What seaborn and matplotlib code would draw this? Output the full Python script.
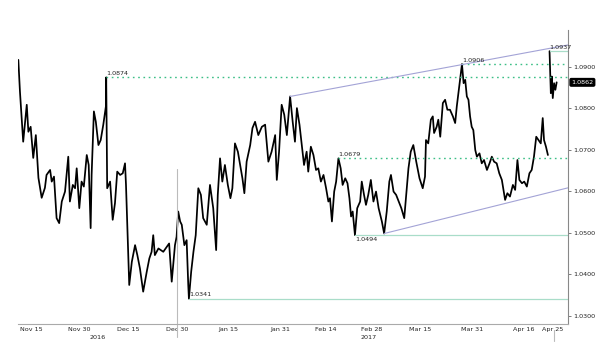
import pandas as pd
import seaborn as sns
import matplotlib.pyplot as plt
import matplotlib.transforms as mtransforms

sns.set_style('white')
plt.rcParams['font.family'] = ['DejaVu Sans']

# days after 2016-11-15 and price
days = [-3.9, -3.4, -2.4, -1.3, -0.8, -0.1, 0.7, 1.5, 2.3, 3.3, 4.3, 4.8, 5.9, 6.4, 7.1, 7.9, 8.7, 9.5,
        10.5, 11.5, 12.0, 12.9, 13.6, 14.1, 14.9, 15.6, 16.3, 17.2, 17.8, 18.4, 18.7, 19.4, 20.0, 20.8,
        21.5, 22.3, 23.1, 23.2, 23.5, 24.4, 25.2, 25.9, 26.6, 27.5, 28.3, 29.0, 29.3, 29.7, 30.3, 31.1,
        32.1, 32.8, 33.6, 34.6, 35.7, 36.5, 37.2, 37.7, 38.2, 39.3, 40.8, 41.9, 42.6, 43.4, 44.4, 44.9,
        45.4, 46.0, 46.5, 47.3, 48.0, 48.5, 48.7, 49.4, 50.1, 50.8, 51.6, 52.4, 53.1, 54.2, 55.2, 56.2,
        57.1, 57.6, 58.3, 59.0, 59.8, 60.7, 61.5, 62.1, 62.9, 63.8, 64.5, 65.2, 65.8, 66.5, 67.6, 68.3,
        69.1, 70.1, 71.2, 72.2, 73.2, 74.2, 75.3, 75.8, 76.5, 77.3, 78.1, 78.9, 79.9, 80.7, 81.4, 82.0,
        82.8, 83.5, 84.2, 85.0, 85.5, 86.3, 87.1, 87.9, 88.6, 89.4, 90.2, 91.0, 91.7, 92.2, 92.8, 93.5,
        94.1, 94.8, 95.5, 96.1, 96.9, 97.6, 98.2, 98.7, 99.2, 99.9, 100.6, 101.5, 102.0, 102.7, 103.3,
        104.0, 104.8, 105.6, 106.4, 107.2, 108.2, 108.9, 109.7, 110.5, 111.0, 111.8, 112.6, 113.4,
        114.2, 115.1, 115.7, 116.4, 117.1, 117.9, 118.8, 119.8, 120.8, 121.5, 121.8, 122.5, 123.3,
        123.9, 124.3, 125.1, 125.6, 126.2, 127.0, 127.7, 128.4, 129.2, 130.1, 130.8, 131.3, 131.8,
        132.3, 132.9, 133.4, 133.9, 134.4, 134.9, 135.4, 135.9, 136.4, 137.0, 137.5, 138.3, 139.0,
        139.7, 140.6, 141.4, 142.1, 142.8, 143.6, 144.4, 145.2, 145.7, 146.2, 146.9, 147.7, 148.6,
        149.3, 150.0, 150.6, 151.4, 152.1, 152.9, 153.7, 154.4, 155.1, 155.8, 156.5, 157.2, 157.8,
        158.2, 158.8, 159.4,
        159.9, 160.3, 160.6, 160.9, 161.3, 161.7, 162.1]
price = [1.0916, 1.0840, 1.0719, 1.0808, 1.0743, 1.0755, 1.0680, 1.0735, 1.0632, 1.0584, 1.0608, 1.0639,
         1.0651, 1.0623, 1.0635, 1.0535, 1.0523, 1.0575, 1.0599, 1.0683, 1.0575, 1.0615, 1.0607, 1.0655,
         1.0559, 1.0623, 1.0611, 1.0687, 1.0663, 1.0511, 1.0639, 1.0792, 1.0767, 1.0711, 1.0723, 1.0760,
         1.0804, 1.0874, 1.0607, 1.0623, 1.0531, 1.0571, 1.0647, 1.0639, 1.0643, 1.0667, 1.0615, 1.0519,
         1.0374, 1.0430, 1.0470, 1.0446, 1.0414, 1.0358, 1.0406, 1.0438, 1.0454, 1.0494, 1.0446, 1.0462,
         1.0454, 1.0466, 1.0474, 1.0382, 1.0470, 1.0490, 1.0551, 1.0527, 1.0519, 1.0470, 1.0482, 1.0374,
         1.0341, 1.0406, 1.0454, 1.0494, 1.0607, 1.0591, 1.0535, 1.0519, 1.0615, 1.0559, 1.0458, 1.0591,
         1.0679, 1.0623, 1.0663, 1.0615, 1.0583, 1.0607, 1.0715, 1.0695, 1.0663, 1.0631, 1.0595, 1.0671,
         1.0711, 1.0752, 1.0767, 1.0735, 1.0755, 1.0760, 1.0671, 1.0695, 1.0735, 1.0627, 1.0695, 1.0808,
         1.0784, 1.0735, 1.0828, 1.0767, 1.0719, 1.0800, 1.0760, 1.0711, 1.0663, 1.0695, 1.0647, 1.0707,
         1.0687, 1.0651, 1.0655, 1.0623, 1.0639, 1.0607, 1.0575, 1.0583, 1.0527, 1.0599, 1.0623, 1.0679,
         1.0655, 1.0615, 1.0631, 1.0619, 1.0583, 1.0539, 1.0551, 1.0494, 1.0559, 1.0575, 1.0623, 1.0591,
         1.0567, 1.0591, 1.0627, 1.0575, 1.0599, 1.0559, 1.0527, 1.0498, 1.0551, 1.0623, 1.0639, 1.0599,
         1.0591, 1.0575, 1.0559, 1.0535, 1.0591, 1.0655, 1.0695, 1.0711, 1.0671, 1.0631, 1.0607, 1.0635,
         1.0723, 1.0715, 1.0772, 1.0780, 1.0740, 1.0755, 1.0772, 1.0731, 1.0812, 1.0820, 1.0796, 1.0796,
         1.0780, 1.0764, 1.0804, 1.0836, 1.0868, 1.0906, 1.0860, 1.0868, 1.0828, 1.0820, 1.0780, 1.0755,
         1.0747, 1.0699, 1.0683, 1.0691, 1.0667, 1.0675, 1.0651, 1.0667, 1.0683, 1.0671, 1.0667, 1.0643,
         1.0627, 1.0603, 1.0579, 1.0595, 1.0587, 1.0615, 1.0603, 1.0675, 1.0627, 1.0619, 1.0623, 1.0611,
         1.0643, 1.0651, 1.0683, 1.0731, 1.0723, 1.0715, 1.0776, 1.0723, 1.0707, 1.0687,
         1.0937, 1.0836, 1.0876, 1.0824, 1.0860, 1.0844, 1.0862]
gap_after = 226  # weekend gap before the last session

# support / resistance levels: (day the level starts, value, dotted?, label above?)
level_days = [23.2, 132.9, 159.9, 94.8, 99.9, 48.7]
level_vals = [1.0874, 1.0906, 1.0937, 1.0679, 1.0494, 1.0341]
level_dotted = [True, True, False, True, False, False]
level_above = [True, True, True, True, False, True]

# channel lines (start day, start value, end day, end value)
upper_channel = [79.9, 1.0828, 165.6, 1.0952]
lower_channel = [108.9, 1.0498, 165.6, 1.0608]

last_price = 1.0862
tick_dates = ['2016-11-15', '2016-11-30', '2016-12-15', '2016-12-30', '2017-01-15', '2017-01-31',
              '2017-02-14', '2017-02-28', '2017-03-15', '2017-03-31', '2017-04-16', '2017-04-25']
tick_labels = ['Nov 15', 'Nov 30', 'Dec 15', 'Dec 30', 'Jan 15', 'Jan 31',
               'Feb 14', 'Feb 28', 'Mar 15', 'Mar 31', 'Apr 16', 'Apr 25']
years = ['2016', '2017']
year_days = [20.7, 104.0]

start = pd.Timestamp('2016-11-15')
def to_date(d):
    return start + pd.to_timedelta(d, unit='D')

df = pd.DataFrame({'date': to_date(pd.Series(days)), 'price': price})
df['seg'] = [0 if i < gap_after else 1 for i in range(len(df))]

fig = plt.figure(figsize=(6, 3.55), dpi=100)
ax = fig.add_axes([0.03, 0.086, 0.9167, 0.8295])

sns.lineplot(data=df, x='date', y='price', units='seg', estimator=None,
             color='black', linewidth=1.25, ax=ax, legend=False)

xmax = to_date(165.6)
ax.set_xlim(to_date(-4.0), xmax)
ax.set_ylim(1.0279, 1.0988)

green = '#3cbf86'
light_green = '#a9ddc9'
for d, v, dot, above in zip(level_days, level_vals, level_dotted, level_above):
    if dot:
        ax.plot([to_date(d), xmax], [v, v], color=green, linestyle=(0, (1.2, 2.6)), linewidth=1.0)
    else:
        ax.plot([to_date(d), xmax], [v, v], color=light_green, linewidth=0.9)
    ax.text(to_date(d), v + (0.0003 if above else -0.0004), f'{v:.4f}', fontsize=4.6,
            ha='left', va='bottom' if above else 'top', color='#222222')

chan = '#a3a3d6'
for c in [upper_channel, lower_channel]:
    ax.plot([to_date(c[0]), to_date(c[2])], [c[1], c[3]], color=chan, linewidth=0.8)

# year separator and current-date marks
blend = mtransforms.blended_transform_factory(ax.transData, ax.transAxes)
ax.plot([to_date(45.0), to_date(45.0)], [-0.043, (1.0653 - 1.0279) / (1.0988 - 1.0279)],
        color='#bbbbbb', linewidth=0.8, transform=blend, clip_on=False)
ax.plot([to_date(161.3), to_date(161.3)], [-0.02, -0.055], color='#bbbbbb', linewidth=0.8,
        transform=blend, clip_on=False)

for spine in ['top', 'left']:
    ax.spines[spine].set_visible(False)
ax.spines['right'].set_color('#888888')
ax.spines['bottom'].set_color('#aaaaaa')
ax.spines['right'].set_linewidth(0.8)
ax.spines['bottom'].set_linewidth(0.8)

ax.yaxis.tick_right()
ax.set_yticks([1.03, 1.04, 1.05, 1.06, 1.07, 1.08, 1.09])
ax.set_yticklabels([f'{v:.4f}' for v in ax.get_yticks()])
ax.tick_params(axis='y', labelsize=4.6, length=2, width=0.6, color='#666666', pad=1.5, labelcolor='#222222')

ax.set_xticks(pd.to_datetime(tick_dates))
ax.set_xticklabels(tick_labels)
ax.tick_params(axis='x', labelsize=4.6, length=0, pad=2.0, labelcolor='#222222')
mids = pd.to_datetime(tick_dates[:-1]) + (pd.to_datetime(tick_dates[1:]) - pd.to_datetime(tick_dates[:-1])) / 2
ax.set_xticks(mids, minor=True)
ax.tick_params(axis='x', which='minor', length=2, width=0.6, direction='in', color='#999999')

for y, d in zip(years, year_days):
    ax.text(to_date(d), -0.036, y, transform=blend, fontsize=4.6, ha='center', va='top', color='#222222')

ax.text(1.006, last_price, f'{last_price:.4f}', transform=mtransforms.blended_transform_factory(ax.transAxes, ax.transData),
        fontsize=4.6, color='white', ha='left', va='center',
        bbox=dict(boxstyle='round,pad=0.2', fc='black', ec='black'))

ax.set_xlabel('')
ax.set_ylabel('')
ax.grid(False)
fig.savefig('out.png', dpi=100)
